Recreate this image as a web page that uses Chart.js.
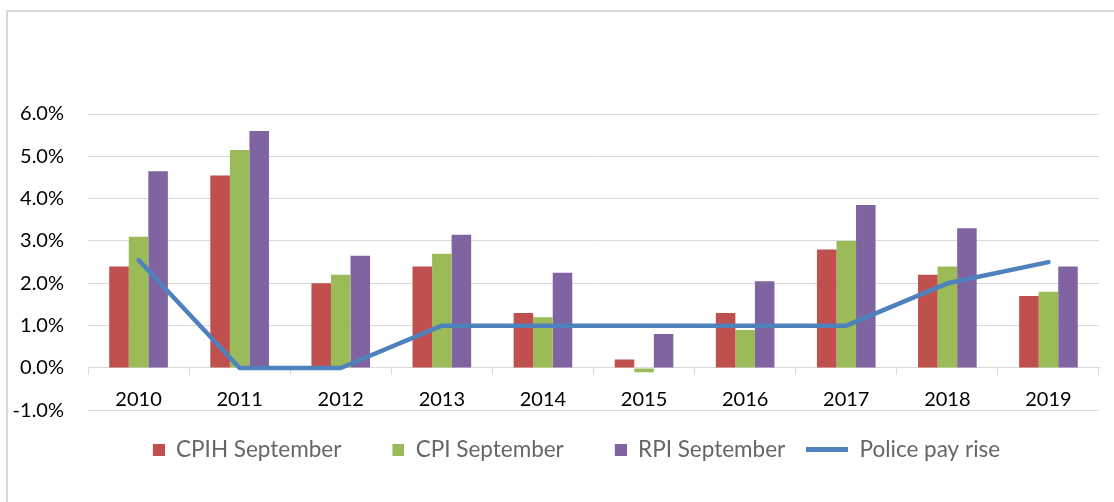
<!DOCTYPE html>
<html>
<head>
<meta charset="utf-8">
<script src="https://cdn.jsdelivr.net/npm/chart.js@4.4.1/dist/chart.umd.min.js"></script>
<style>
  html, body { margin: 0; padding: 0; background: #fff; overflow: hidden; }
  #frame {
    position: absolute; left: 6px; top: 10px; width: 1130px; height: 520px;
    border: 2px solid #d9d9d9; box-sizing: border-box;
  }
  #wrap { position: absolute; left: 0; top: 0; width: 1123px; height: 502px; }
</style>
</head>
<body>
<div id="frame"></div>
<div id="wrap"><canvas id="barChartCanvas" width="1123" height="502"></canvas></div>
<script>
// Data (percent)
const years = ['2010', '2011', '2012', '2013', '2014', '2015', '2016', '2017', '2018', '2019'];
const cpihSeptember = [2.4, 4.55, 2.0, 2.4, 1.3, 0.2, 1.3, 2.8, 2.2, 1.7];
const cpiSeptember = [3.1, 5.15, 2.2, 2.7, 1.2, -0.1, 0.9, 3.0, 2.4, 1.8];
const rpiSeptember = [4.65, 5.6, 2.65, 3.15, 2.25, 0.8, 2.05, 3.85, 3.3, 2.4];
const policePayRise = [2.55, 0, 0, 1, 1, 1, 1, 1, 2, 2.5];

const FONT = 'Lato, "Open Sans", sans-serif';

// Small legend keys: squares for the bars, a short thick line for the police series
function keySquare(color) {
    const c = document.createElement('canvas');
    c.width = 42; c.height = 12;
    const g = c.getContext('2d');
    g.fillStyle = color;
    g.fillRect(30, 0, 12, 12);
    return c;
}
function keyLine(color) {
    const c = document.createElement('canvas');
    c.width = 42; c.height = 5;
    const g = c.getContext('2d');
    g.fillStyle = color;
    g.fillRect(0, 0, 42, 5);
    return c;
}

document.addEventListener('DOMContentLoaded', function () {
    const canvas = document.getElementById('barChartCanvas');
    const ctx = canvas.getContext('2d');

    const keys = [keySquare('#c0504d'), keySquare('#9bbb59'), keySquare('#8064a2'), keyLine('#4f81bd')];

    new Chart(ctx, {
        type: 'bar',
        data: {
            labels: years,
            datasets: [
                {
                    label: 'CPIH September',
                    data: cpihSeptember,
                    backgroundColor: '#c0504d',
                    categoryPercentage: 0.58,
                    barPercentage: 1.0,
                    order: 1
                },
                {
                    label: 'CPI September',
                    data: cpiSeptember,
                    backgroundColor: '#9bbb59',
                    categoryPercentage: 0.58,
                    barPercentage: 1.0,
                    order: 1
                },
                {
                    label: 'RPI September',
                    data: rpiSeptember,
                    backgroundColor: '#8064a2',
                    categoryPercentage: 0.58,
                    barPercentage: 1.0,
                    order: 1
                },
                {
                    type: 'line',
                    label: 'Police pay rise',
                    data: policePayRise,
                    borderColor: '#4f81bd',
                    backgroundColor: '#4f81bd',
                    borderWidth: 4.5,
                    borderCapStyle: 'round',
                    borderJoinStyle: 'round',
                    pointRadius: 0,
                    tension: 0,
                    fill: false,
                    order: 0
                }
            ]
        },
        options: {
            responsive: false,
            animation: false,
            layout: {
                padding: { top: 114, right: 0, bottom: 31, left: 0 }
            },
            scales: {
                x: {
                    position: { y: 0 },
                    offset: true,
                    grid: {
                        offset: true,
                        drawOnChartArea: false,
                        drawTicks: true,
                        tickLength: 7,
                        color: '#d9d9d9'
                    },
                    border: { display: true, color: '#d9d9d9', width: 1 },
                    ticks: {
                        color: '#000',
                        font: { family: FONT, size: 20 },
                        padding: 13,
                        maxRotation: 0
                    }
                },
                y: {
                    min: -1,
                    max: 6,
                    grid: { color: '#d9d9d9', lineWidth: 1, drawTicks: false },
                    border: { display: false },
                    ticks: {
                        stepSize: 1,
                        color: '#000',
                        font: { family: FONT, size: 20 },
                        padding: 24,
                        callback: function (v) { return v.toFixed(1) + '%'; }
                    },
                    afterFit: function (scale) { scale.width = 88; }
                },
                // empty right-hand axis, only keeps a margin right of the plot
                yRight: {
                    position: 'right',
                    display: true,
                    grid: { display: false },
                    border: { display: false },
                    ticks: { display: false },
                    afterFit: function (scale) { scale.width = 24; }
                }
            },
            plugins: {
                tooltip: { enabled: false },
                legend: {
                    position: 'bottom',
                    // blank title only used as a spacer between the plot and the keys
                    title: { display: true, text: ' ', font: { size: 6 }, padding: 0 },
                    labels: {
                        usePointStyle: true,
                        pointStyleWidth: 42,
                        padding: 21,
                        color: '#000',
                        font: { family: FONT, size: 22.5 },
                        generateLabels: function (chart) {
                            return chart.data.datasets.map(function (ds, i) {
                                return {
                                    text: ds.label,
                                    pointStyle: keys[i],
                                    fillStyle: 'transparent',
                                    strokeStyle: 'transparent',
                                    lineWidth: 0,
                                    hidden: false,
                                    datasetIndex: i
                                };
                            });
                        }
                    }
                }
            }
        }
    });
});
</script>
</body>
</html>
